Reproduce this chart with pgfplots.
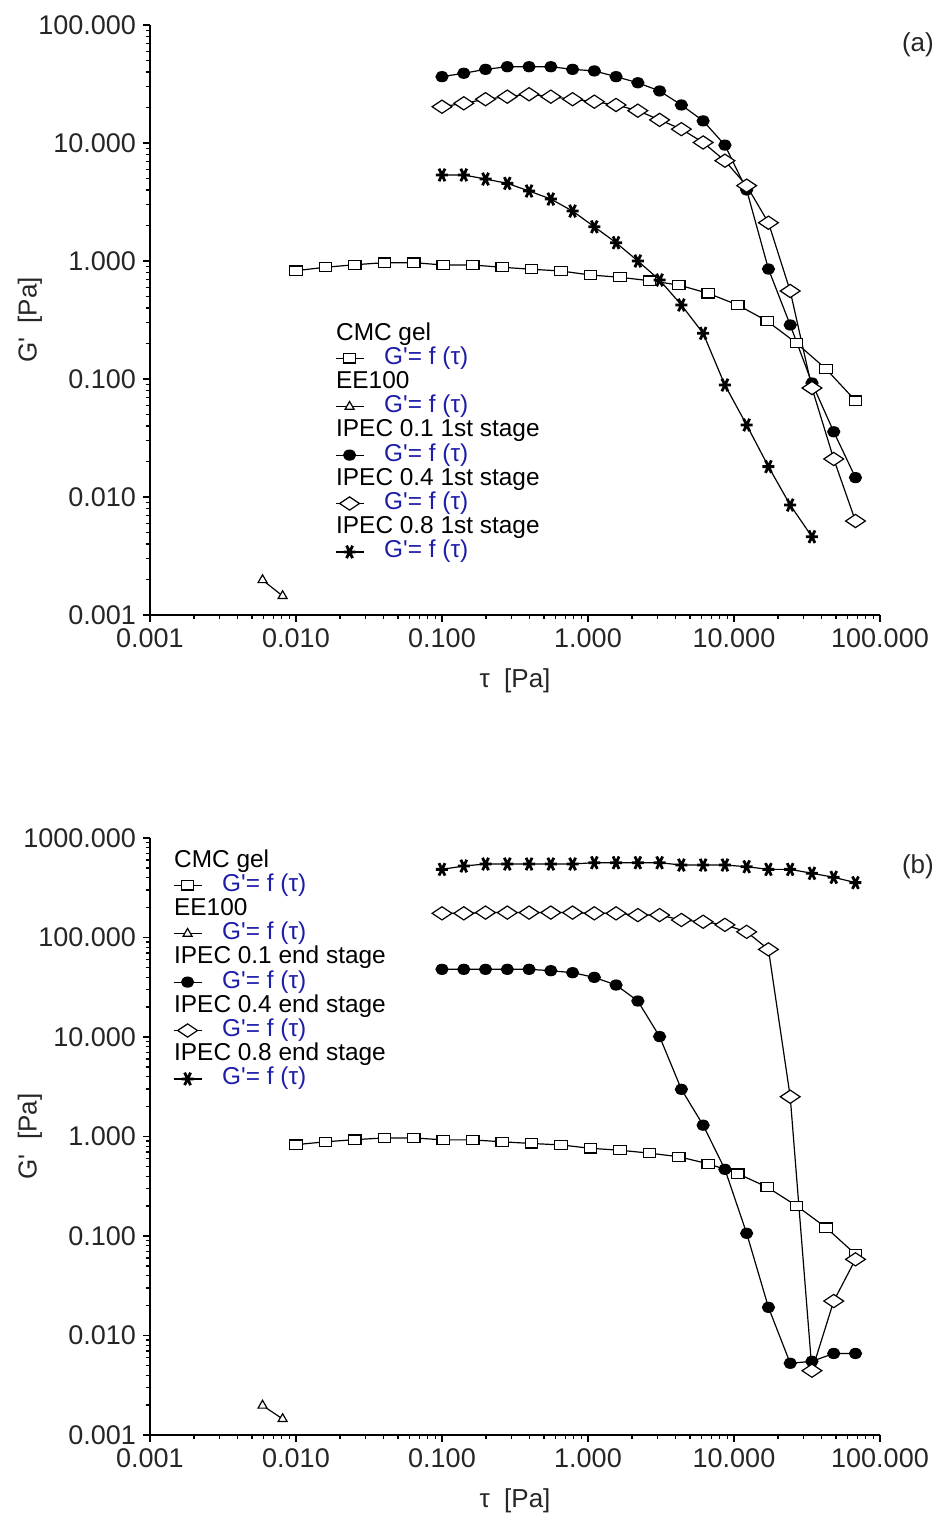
\documentclass[border=0pt]{standalone}
\usepackage{fontspec}
\setmainfont{Liberation Sans}
\usepackage{pgfplots}
\pgfplotsset{compat=1.18}
\definecolor{gblue}{RGB}{30,30,170}
\newcommand{\gf}{\textcolor{gblue}{G\textquotesingle= f (τ)}}
\tikzset{
 mysq/.style={black, line width=0.6pt, mark=square*, mark size=2.3pt, mark options={fill=white, xscale=1.35, line width=0.6pt}},
 mytri/.style={black, line width=0.6pt, mark=triangle*, mark size=2.6pt, mark options={fill=white, line width=0.6pt}},
 mycirc/.style={black, line width=0.6pt, mark=*, mark size=2.5pt, mark options={fill=black, xscale=1.2}},
 mydia/.style={black, line width=0.6pt, mark=diamond*, mark size=3.3pt, mark options={fill=white, xscale=2.0, line width=0.6pt}},
 mystar/.style={black, line width=0.6pt, mark=asterisk, mark size=3pt, mark options={rotate=90, xscale=1.2, line width=1.4pt}},
}
\begin{document}
\begin{tikzpicture}
\useasboundingbox (-75pt,-451pt) rectangle (396pt,307.5pt);
% ---------------- (a) ----------------
\begin{axis}[xmode=log, ymode=log, scale only axis, width=365pt, height=295pt,
  at={(0pt,0pt)}, anchor=south west,
  xmin=0.001, xmax=100, ymin=0.001, ymax=100,
  axis lines=left, axis line style={-, line width=0.7pt},
  tick align=outside, major tick length=3.5pt, minor tick length=2pt,
  tick style={black, line width=0.6pt},
  xtick={0.001,0.01,0.1,1,10,100},
  xticklabels={0.001,0.010,0.100,1.000,10.000,100.000},
  minor xtick={0.002,0.003,0.004,0.005,0.006,0.007,0.008,0.009,0.02,0.03,0.04,0.05,0.06,0.07,0.08,0.09,0.2,0.3,0.4,0.5,0.6,0.7,0.8,0.9,2,3,4,5,6,7,8,9,20,30,40,50,60,70,80,90},
  ytick={0.001,0.01,0.1,1,10,100},
  yticklabels={0.001,0.010,0.100,1.000,10.000,100.000},
  minor ytick={0.002,0.003,0.004,0.005,0.006,0.007,0.008,0.009,0.02,0.03,0.04,0.05,0.06,0.07,0.08,0.09,0.2,0.3,0.4,0.5,0.6,0.7,0.8,0.9,2,3,4,5,6,7,8,9,20,30,40,50,60,70,80,90},
  tick label style={font=\fontsize{13.5}{14}\selectfont, text=black!85},
  xlabel={τ\ \ [Pa]}, ylabel={G\textquotesingle\ \ [Pa]},
  xlabel style={at={(axis description cs:0.5,0)}, yshift=-33pt, anchor=center, font=\fontsize{13}{14}\selectfont, text=black!85},
  ylabel style={at={(axis description cs:-0.1644,0.5)}, anchor=center, font=\fontsize{13}{14}\selectfont, text=black!85},
  clip=false,
  legend image code/.code={\draw[mark repeat=2,mark phase=2] plot coordinates {(0pt,0pt) (7pt,0pt) (14pt,0pt)};},
  legend style={draw=none, fill=none, at={(axis description cs:0.2534,0.4966)}, anchor=north west, inner sep=0pt, outer sep=0pt, row sep=0pt, column sep=8pt,
    font=\fontsize{12.2}{12.2}\selectfont,
    nodes={inner xsep=2pt, inner ysep=0pt, text height=9pt, text depth=3.1pt}},
  legend cell align=left]
\addlegendimage{empty legend}\addlegendentry{\hspace*{-24pt}CMC gel}
\addplot[mysq] coordinates {(0.01,0.828) (0.0159,0.885) (0.0253,0.93) (0.0403,0.968) (0.0641,0.968) (0.102,0.925) (0.1623,0.925) (0.2582,0.885) (0.4108,0.851) (0.6535,0.823) (1.040,0.761) (1.654,0.728) (2.633,0.681) (4.189,0.626) (6.665,0.532) (10.60,0.424) (16.87,0.310) (26.84,0.201) (42.71,0.1216) (67.96,0.0655)};
\addlegendentry{\gf}
\addlegendimage{empty legend}\addlegendentry{\hspace*{-24pt}EE100}
\addplot[mytri] coordinates {(0.0059,0.00198) (0.0081,0.00145)};
\addlegendentry{\gf}
\addlegendimage{empty legend}\addlegendentry{\hspace*{-24pt}IPEC 0.1 1st stage}
\addplot[mycirc] coordinates {(0.1,36.5) (0.141,39.0) (0.1987,42.1) (0.2801,44.3) (0.3948,44.3) (0.5564,44.3) (0.7842,42.1) (1.105,40.8) (1.557,36.5) (2.195,32.4) (3.094,27.6) (4.362,21.0) (6.147,15.4) (8.666,9.6) (12.21,4.0) (17.22,0.855) (24.27,0.287) (34.20,0.0925) (48.21,0.0357) (67.94,0.0146)};
\addlegendentry{\gf}
\addlegendimage{empty legend}\addlegendentry{\hspace*{-24pt}IPEC 0.4 1st stage}
\addplot[mydia] coordinates {(0.1,20.3) (0.141,21.7) (0.1987,23.5) (0.2801,24.7) (0.3948,25.9) (0.5564,24.7) (0.7842,23.5) (1.105,22.4) (1.557,21.0) (2.195,18.8) (3.094,15.7) (4.362,13.1) (6.147,10.1) (8.666,7.08) (12.21,4.35) (17.22,2.11) (24.27,0.557) (34.20,0.0839) (48.21,0.0210) (67.94,0.00626)};
\addlegendentry{\gf}
\addlegendimage{empty legend}\addlegendentry{\hspace*{-24pt}IPEC 0.8 1st stage}
\addplot[mystar] coordinates {(0.1,5.36) (0.141,5.36) (0.1987,4.95) (0.2801,4.55) (0.3948,3.92) (0.5564,3.35) (0.7842,2.65) (1.105,1.95) (1.557,1.43) (2.195,1.0) (3.094,0.690) (4.362,0.424) (6.147,0.244) (8.666,0.0889) (12.21,0.0408) (17.22,0.0181) (24.27,0.00855) (34.20,0.00461)};
\addlegendentry{\gf}
\node[font=\fontsize{13}{14}\selectfont, text=black!85] at (axis description cs:1.052,0.966) {(a)};
\end{axis}
% ---------------- (b) ----------------
\begin{axis}[xmode=log, ymode=log, scale only axis, width=365pt, height=298.5pt,
  at={(0pt,-410pt)}, anchor=south west,
  xmin=0.001, xmax=100, ymin=0.001, ymax=1000,
  axis lines=left, axis line style={-, line width=0.7pt},
  tick align=outside, major tick length=3.5pt, minor tick length=2pt,
  tick style={black, line width=0.6pt},
  xtick={0.001,0.01,0.1,1,10,100},
  xticklabels={0.001,0.010,0.100,1.000,10.000,100.000},
  minor xtick={0.002,0.003,0.004,0.005,0.006,0.007,0.008,0.009,0.02,0.03,0.04,0.05,0.06,0.07,0.08,0.09,0.2,0.3,0.4,0.5,0.6,0.7,0.8,0.9,2,3,4,5,6,7,8,9,20,30,40,50,60,70,80,90},
  ytick={0.001,0.01,0.1,1,10,100,1000},
  yticklabels={0.001,0.010,0.100,1.000,10.000,100.000,1000.000},
  minor ytick={0.002,0.003,0.004,0.005,0.006,0.007,0.008,0.009,0.02,0.03,0.04,0.05,0.06,0.07,0.08,0.09,0.2,0.3,0.4,0.5,0.6,0.7,0.8,0.9,2,3,4,5,6,7,8,9,20,30,40,50,60,70,80,90,200,300,400,500,600,700,800,900},
  tick label style={font=\fontsize{13.5}{14}\selectfont, text=black!85},
  xlabel={τ\ \ [Pa]}, ylabel={G\textquotesingle\ \ [Pa]},
  xlabel style={at={(axis description cs:0.5,0)}, yshift=-33pt, anchor=center, font=\fontsize{13}{14}\selectfont, text=black!85},
  ylabel style={at={(axis description cs:-0.1644,0.5)}, anchor=center, font=\fontsize{13}{14}\selectfont, text=black!85},
  clip=false,
  legend image code/.code={\draw[mark repeat=2,mark phase=2] plot coordinates {(0pt,0pt) (7pt,0pt) (14pt,0pt)};},
  legend style={draw=none, fill=none, at={(axis description cs:0.0315,0.9816)}, anchor=north west, inner sep=0pt, outer sep=0pt, row sep=0pt, column sep=8pt,
    font=\fontsize{12.2}{12.2}\selectfont,
    nodes={inner xsep=2pt, inner ysep=0pt, text height=9pt, text depth=3.1pt}},
  legend cell align=left]
\addlegendimage{empty legend}\addlegendentry{\hspace*{-24pt}CMC gel}
\addplot[mysq] coordinates {(0.01,0.828) (0.0159,0.885) (0.0253,0.93) (0.0403,0.968) (0.0641,0.968) (0.102,0.925) (0.1623,0.925) (0.2582,0.885) (0.4108,0.851) (0.6535,0.823) (1.040,0.761) (1.654,0.728) (2.633,0.681) (4.189,0.626) (6.665,0.532) (10.60,0.424) (16.87,0.310) (26.84,0.201) (42.71,0.1216) (67.96,0.0655)};
\addlegendentry{\gf}
\addlegendimage{empty legend}\addlegendentry{\hspace*{-24pt}EE100}
\addplot[mytri] coordinates {(0.0059,0.00198) (0.0081,0.00145)};
\addlegendentry{\gf}
\addlegendimage{empty legend}\addlegendentry{\hspace*{-24pt}IPEC 0.1 end stage}
\addplot[mycirc] coordinates {(0.1,47.9) (0.141,47.9) (0.1987,47.9) (0.2801,47.9) (0.3948,47.9) (0.5564,46.4) (0.7842,44.3) (1.105,39.8) (1.557,33.3) (2.195,23.0) (3.094,10.1) (4.362,2.98) (6.147,1.30) (8.666,0.468) (12.21,0.1065) (17.22,0.0192) (24.27,0.00526) (34.20,0.0055) (48.21,0.0066) (67.94,0.0066)};
\addlegendentry{\gf}
\addlegendimage{empty legend}\addlegendentry{\hspace*{-24pt}IPEC 0.4 end stage}
\addplot[mydia] coordinates {(0.1,175) (0.141,175) (0.1987,178) (0.2801,178) (0.3948,178) (0.5564,178) (0.7842,178) (1.105,175) (1.557,175) (2.195,168) (3.094,168) (4.362,150) (6.147,144) (8.666,134) (12.21,114) (17.22,76) (24.27,2.51) (34.20,0.00443) (48.21,0.0222) (67.94,0.0583)};
\addlegendentry{\gf}
\addlegendimage{empty legend}\addlegendentry{\hspace*{-24pt}IPEC 0.8 end stage}
\addplot[mystar] coordinates {(0.1,484) (0.141,523) (0.1987,548) (0.2801,548) (0.3948,548) (0.5564,548) (0.7842,548) (1.105,565) (1.557,565) (2.195,565) (3.094,565) (4.362,535) (6.147,535) (8.666,535) (12.21,515) (17.22,484) (24.27,484) (34.20,442) (48.21,403) (67.94,356)};
\addlegendentry{\gf}
\node[font=\fontsize{13}{14}\selectfont, text=black!85] at (axis description cs:1.052,0.951) {(b)};
\end{axis}
\end{tikzpicture}
\end{document}
